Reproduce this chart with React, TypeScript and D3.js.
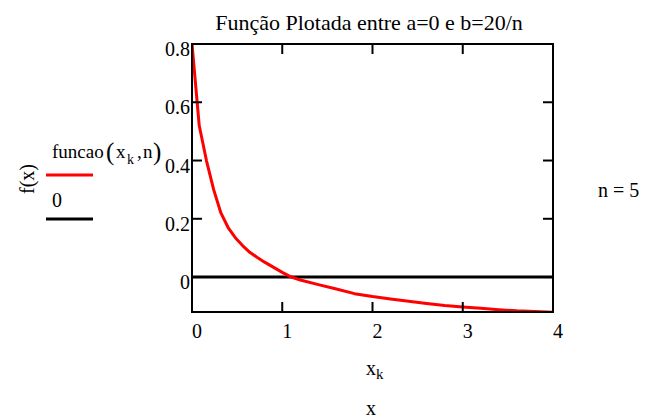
import React from "react";
import * as d3 from "d3";

// Sample points of funcao(x_k, n) for n = 5
const xk: number[] = [0, 0.08, 0.16, 0.24, 0.32, 0.4, 0.48, 0.56, 0.64, 0.72, 0.8, 0.9, 1.0, 1.1, 1.2, 1.4, 1.6, 1.8, 2.0, 2.2, 2.4, 2.6, 2.8, 3.0, 3.2, 3.4, 3.6, 3.8, 4.0];
const fk: number[] = [0.8, 0.52, 0.4, 0.3, 0.22, 0.17, 0.135, 0.108, 0.085, 0.068, 0.052, 0.034, 0.016, 0.0, -0.01, -0.026, -0.041, -0.057, -0.067, -0.075, -0.083, -0.091, -0.098, -0.103, -0.107, -0.112, -0.116, -0.118, -0.121];

const xTicks: number[] = [0, 1, 2, 3, 4];
const yTicks: number[] = [0, 0.2, 0.4, 0.6, 0.8];
const yTickLabels: string[] = ["0", "0.2", "0.4", "0.6", "0.8"];

const title = "Função Plotada entre a=0 e b=20/n";
const nValue = 5;

const FONT = "Liberation Serif, DejaVu Serif, serif";

export default function App() {
  const W = 649;
  const H = 420;
  const left = 192, right = 553, top = 44, bottom = 312;
  const x = d3.scaleLinear().domain([0, 4]).range([left, right]);
  const y = d3.scaleLinear().domain([-0.12, 0.8]).range([bottom, top]);

  const line = d3
    .line<number>()
    .x((_, i) => x(xk[i]))
    .y((d) => y(d));

  const tickLen = 10;

  return (
    <svg
      width={W}
      height={H}
      style={{ position: "absolute", left: 0, top: 0, background: "#fff", fontFamily: FONT }}
    >
      <rect x={0} y={0} width={W} height={H} fill="#fff" />
      {/* title */}
      <text x={369} y={30} fontSize={22} textAnchor="middle" fill="#000">
        {title}
      </text>

      {/* clip the plot content to the frame */}
      <defs>
        <clipPath id="plotArea">
          <rect x={left} y={top - 2} width={right - left} height={bottom - top + 2} />
        </clipPath>
      </defs>

      {/* zero line */}
      <line x1={left} x2={right} y1={y(0)} y2={y(0)} stroke="#000" strokeWidth={3} />

      {/* function curve */}
      <path
        d={line(fk) || ""}
        fill="none"
        stroke="#ff0000"
        strokeWidth={3}
        strokeLinejoin="round"
        clipPath="url(#plotArea)"
      />

      {/* frame */}
      <rect x={left} y={top} width={right - left} height={bottom - top} fill="none" stroke="#000" strokeWidth={2} />

      {/* x ticks (bottom and top, inward) */}
      {xTicks.map((t) => (
        <g key={"xt" + t}>
          <line x1={x(t)} x2={x(t)} y1={bottom} y2={bottom - tickLen} stroke="#000" strokeWidth={2} />
          <line x1={x(t)} x2={x(t)} y1={top} y2={top + tickLen} stroke="#000" strokeWidth={2} />
          <text x={x(t)} y={338} fontSize={20} textAnchor="start" fill="#000">
            {t}
          </text>
        </g>
      ))}

      {/* y ticks (left and right, inward) */}
      {yTicks.map((t, i) => (
        <g key={"yt" + t}>
          <line x1={left} x2={left + tickLen} y1={y(t)} y2={y(t)} stroke="#000" strokeWidth={2} />
          <line x1={right} x2={right - tickLen} y1={y(t)} y2={y(t)} stroke="#000" strokeWidth={2} />
          <text x={190} y={y(t) + 12} fontSize={20} textAnchor="end" fill="#000">
            {yTickLabels[i]}
          </text>
        </g>
      ))}

      {/* y axis label */}
      <text
        transform="translate(34,179) rotate(-90)"
        fontSize={20}
        textAnchor="middle"
        fill="#000"
      >
        f(x)
      </text>

      {/* legend */}
      <g fill="#000">
        <text x={52} y={158} fontSize={19}>funcao</text>
        <text x={106} y={160} fontSize={25}>(</text>
        <text x={116} y={158} fontSize={19}>x</text>
        <text x={127} y={164} fontSize={14}>k</text>
        <text x={137} y={158} fontSize={19}>,</text>
        <text x={143} y={158} fontSize={19}>n</text>
        <text x={153} y={160} fontSize={25}>)</text>
      </g>
      <line x1={46} x2={93} y1={175} y2={175} stroke="#ff0000" strokeWidth={3} />
      <text x={52} y={207} fontSize={20} fill="#000">0</text>
      <line x1={46} x2={93} y1={219} y2={219} stroke="#000" strokeWidth={3} />

      {/* parameter value */}
      <text x={598} y={197} fontSize={20} fill="#000">
        n = {nValue}
      </text>

      {/* x axis labels */}
      <text x={366} y={375} fontSize={20} fill="#000">
        x<tspan fontSize={15} dy={4}>k</tspan>
      </text>
      <text x={366} y={415} fontSize={20} fill="#000">x</text>
    </svg>
  );
}
